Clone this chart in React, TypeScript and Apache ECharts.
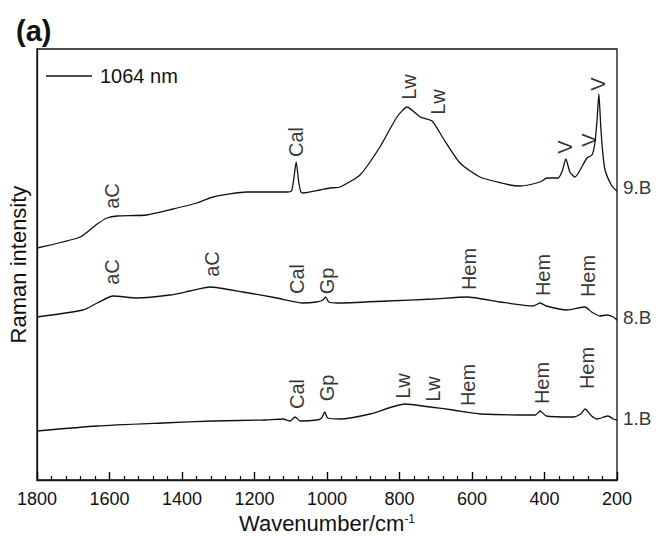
import React, { useEffect, useRef } from "react";
import * as echarts from "echarts";

// Wavenumber (cm-1) and relative intensity (arbitrary units, stacked with offsets)
const wn9 = [1800, 1681, 1634, 1607, 1579, 1497, 1425, 1359, 1314, 1221, 1110, 1098, 1092, 1085, 1078, 1072, 1066, 1019, 992, 964, 909, 854, 807, 779, 743, 710, 680, 633, 578, 495, 468, 412, 393, 363, 352, 341, 330, 316, 283, 269, 261, 255, 250, 245, 240, 233, 214, 200];
const int9 = [232, 243, 256, 262, 264, 265, 271, 277, 283, 288, 288, 289, 300, 318, 298, 288, 287, 290, 292, 293, 305, 333, 363, 373, 363, 359, 342, 317, 303, 295, 294, 298, 302, 302, 308, 321, 308, 303, 322, 325, 337, 360, 386, 355, 330, 310, 294, 289];

const wn8 = [1800, 1673, 1634, 1590, 1524, 1433, 1378, 1323, 1232, 1138, 1066, 1030, 1011, 1004, 995, 972, 834, 708, 614, 523, 432, 412, 395, 338, 288, 270, 247, 228, 210, 200];
const int8 = [163, 170, 177, 184, 182, 185, 189, 193, 188, 182, 177, 178, 180, 183, 178, 177, 179, 181, 183, 178, 174, 177, 174, 170, 173, 168, 164, 165, 163, 160];

const wn1 = [1800, 1634, 1452, 1314, 1177, 1121, 1102, 1088, 1074, 1028, 1015, 1006, 998, 964, 881, 785, 716, 652, 619, 578, 468, 425, 412, 395, 321, 300, 288, 270, 255, 225, 210, 200];
const int1 = [49, 54, 57, 59, 60, 61, 59, 63, 59, 60, 62, 68, 62, 61, 66, 76, 73, 70, 68, 66, 65, 65, 69, 64, 63, 66, 71, 64, 61, 64, 61, 60];

const sampleNames = ["9.B", "8.B", "1.B"];
const sampleLabelAt = [293, 163, 62];
const legendName = "1064 nm";

// Band assignments
const bands9 = ["aC", "Cal", "Lw", "Lw", "V", "V", "V"];
const bandWn9 = [1593, 1086, 774, 694, 343, 277, 252];
const bandAt9 = [284, 338, 393, 378, 333, 340, 396];

const bands8 = ["aC", "aC", "Cal", "Gp", "Hem", "Hem", "Hem"];
const bandWn8 = [1593, 1317, 1083, 1000, 608, 404, 280];
const bandAt8 = [208, 216, 201, 199, 211, 205, 204];

const bands1 = ["Cal", "Gp", "Lw", "Lw", "Hem", "Hem", "Hem"];
const bandWn1 = [1083, 1000, 790, 708, 611, 407, 283];
const bandAt1 = [86, 92, 94, 91, 95, 97, 112];

const xTicks = { min: 200, max: 1800, interval: 200 };

const FONT = "'Liberation Sans', Arial, Helvetica, sans-serif";
const INK = "#111";

function zip(xs: number[], ys: number[]) {
  return xs.map((x, i) => [x, ys[i]]);
}

function bandSeries(names: string[], xs: number[], ys: number[]) {
  return {
    type: "scatter",
    silent: true,
    symbolSize: 0,
    data: names.map((n, i) => ({ name: n, value: [xs[i], ys[i]] })),
    label: {
      show: true,
      position: "inside",
      rotate: 90,
      formatter: (p: any) => p.name,
      color: "#000",
      fontSize: 20,
      fontFamily: FONT,
      align: "center",
      verticalAlign: "middle",
      textBorderWidth: 0,
    },
  };
}

function lineSeries(name: string, xs: number[], ys: number[]) {
  return {
    type: "line",
    name,
    data: zip(xs, ys),
    symbol: "none",
    smooth: 0.2,
    lineStyle: { color: INK, width: 1.3 },
    itemStyle: { color: INK },
  };
}

export default function App() {
  const ref = useRef<HTMLDivElement>(null);
  useEffect(() => {
    if (!ref.current) return;
    const chart = echarts.init(ref.current, null, { renderer: "svg" });
    chart.setOption({
      animation: false,
      backgroundColor: "#fff",
      textStyle: { fontFamily: FONT },
      grid: {
        left: 37,
        right: 39,
        top: 49,
        bottom: 56,
        containLabel: false,
        outerBoundsMode: "none",
        show: true,
        borderColor: INK,
        borderWidth: 1.3,
        backgroundColor: "transparent",
      },
      legend: {
        data: [{ name: legendName, icon: "rect" }],
        left: 41,
        top: 61,
        itemWidth: 46,
        itemHeight: 1.5,
        itemGap: 8,
        textStyle: { fontSize: 20, fontFamily: FONT, color: INK, padding: [0, 0, 0, 3] },
        selectedMode: false,
      },
      graphic: [
        {
          type: "text",
          left: 16,
          top: 16,
          style: { text: "(a)", font: `bold 29px ${FONT}`, fill: INK },
        },
      ],
      xAxis: {
        type: "value",
        inverse: true,
        min: xTicks.min,
        max: xTicks.max,
        interval: xTicks.interval,
        name: "{t|Wavenumber/cm}{s|-1}",
        nameLocation: "middle",
        nameGap: 31,
        nameTextStyle: {
          rich: {
            t: { fontSize: 22, fontFamily: FONT, color: INK, lineHeight: 22, verticalAlign: "bottom" },
            s: { fontSize: 12, fontFamily: FONT, color: INK, lineHeight: 12, verticalAlign: "top" },
          },
        },
        axisLine: { show: true, onZero: false, lineStyle: { color: INK, width: 1.3 } },
        axisTick: { show: true, inside: true, length: 8, lineStyle: { color: "#000", width: 1.4 } },
        minorTick: { show: true, splitNumber: 5, length: 4, lineStyle: { color: "#000", width: 1.2 } },
        axisLabel: {
          color: INK,
          fontSize: 18,
          fontFamily: FONT,
          margin: 10,
          formatter: (v: number) => String(v),
        },
        splitLine: { show: false },
      },
      yAxis: {
        type: "value",
        min: 0,
        max: 431,
        name: "Raman intensity",
        nameLocation: "middle",
        nameGap: 8,
        nameTextStyle: { fontSize: 22, fontFamily: FONT, color: INK },
        axisLine: { show: true, lineStyle: { color: INK, width: 1.3 } },
        axisTick: { show: false },
        axisLabel: { show: false },
        splitLine: { show: false },
      },
      series: [
        lineSeries(sampleNames[0], wn9, int9),
        lineSeries(sampleNames[1], wn8, int8),
        lineSeries(sampleNames[2], wn1, int1),
        { type: "line", name: legendName, data: [], symbol: "none", lineStyle: { color: INK, width: 1.3 }, itemStyle: { color: INK } },
        bandSeries(bands9, bandWn9, bandAt9),
        bandSeries(bands8, bandWn8, bandAt8),
        bandSeries(bands1, bandWn1, bandAt1),
        {
          type: "scatter",
          silent: true,
          symbolSize: 0,
          data: sampleNames.map((n, i) => ({ name: n, value: [xTicks.min, sampleLabelAt[i]] })),
          label: {
            show: true,
            position: "right",
            distance: 6,
            formatter: (p: any) => p.name,
            color: "#000",
            fontSize: 19,
            fontFamily: FONT,
          },
        },
      ],
    });
    return () => chart.dispose();
  }, []);
  return (
    <div
      ref={ref}
      style={{ position: "fixed", left: 0, top: 0, width: 656, height: 536, background: "#fff" }}
    />
  );
}
